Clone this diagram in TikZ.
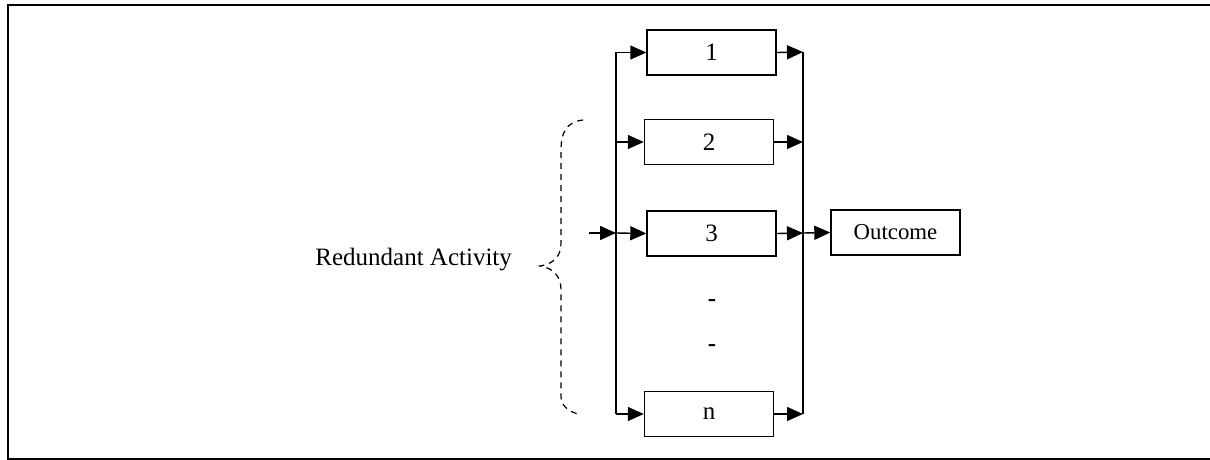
\documentclass[tikz,border=0pt]{standalone}
\usepackage{fontspec}
\setmainfont{Liberation Serif}
\usetikzlibrary{arrows.meta}
\begin{document}
\begin{tikzpicture}[x=0.5pt,y=-0.5pt,
  font=\fontsize{12.5}{15}\selectfont,
  stage/.style={draw,line width=0.7pt,minimum width=64.5pt,minimum height=22.5pt,inner sep=0pt},
  flow/.style={line width=0.7pt,-{Triangle[length=8pt,width=7pt]}},
  bus/.style={line width=0.7pt},
  brace/.style={line width=0.6pt,dash pattern=on 3pt off 2.5pt},
  frame/.style={line width=1pt}]
\useasboundingbox (0,0) rectangle (1210,460);

% outer frame (open on the right)
\draw[frame] (1210,5.5) -- (7.5,5.5) -- (7.5,458.5) -- (1210,458.5);

% parallel activities
\node[stage] (b1) at (711.5,52.5) {1};
\node[stage] (b2) at (709,142) {2};
\node[stage] (b3) at (711.5,233.5) {3};
\node[stage] (bn) at (709,414) {n};
\node[stage,font=\fontsize{11.4}{14}\selectfont] (out) at (895.5,232.5) {Outcome};
\node (d1) at (712,303) {\textbf{-}};
\node (d2) at (712,348) {\textbf{-}};

% split and merge buses
\coordinate (lt) at (616,52.5);
\coordinate (l2) at (616,142);
\coordinate (l3) at (616,233);
\coordinate (lb) at (616,414);
\coordinate (rt) at (803,52);
\coordinate (r2) at (803,142);
\coordinate (r3) at (803,233);
\coordinate (rb) at (803,414);
\coordinate (in) at (589,233);

\draw[bus] (lt) -- (lb);
\draw[bus] (rt) -- (rb);

\draw[flow] (in) -- (l3);
\draw[flow] (lt) -- (b1.west);
\draw[flow] (l2) -- (b2.west);
\draw[flow] (l3) -- (b3.west);
\draw[flow] (lb) -- (bn.west);
\draw[flow] (b1.east) -- (rt);
\draw[flow] (b2.east) -- (r2);
\draw[flow] (b3.east) -- (r3);
\draw[flow] (bn.east) -- (rb);
\draw[flow] (r3) -- (out.west);

% dashed brace and its label
\draw[brace] (583,120) .. controls (566,122) and (561,133) .. (561,150)
  -- (561,243) .. controls (561,257) and (553,264) .. (540,266)
  .. controls (553,268) and (561,276) .. (561,290)
  -- (561,396) .. controls (561,405) and (567,411) .. (578,414);
\node[anchor=base west,inner sep=0pt] (lbl) at (315,265) {Redundant Activity};
\end{tikzpicture}
\end{document}
